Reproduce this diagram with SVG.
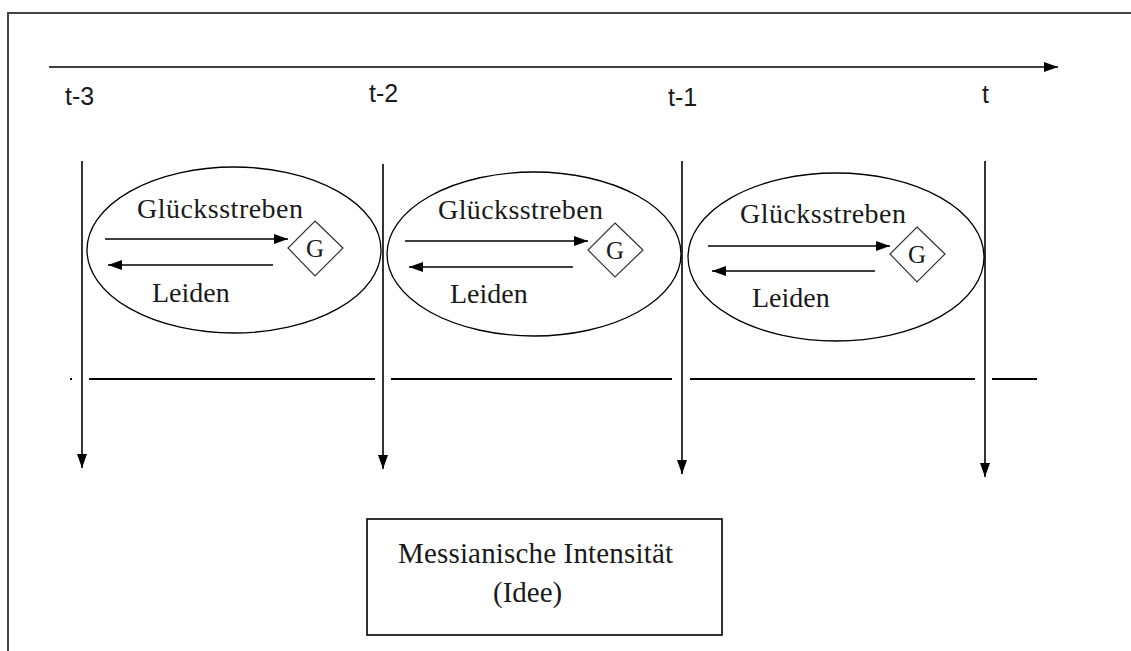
<svg xmlns="http://www.w3.org/2000/svg" width="1131" height="651" viewBox="0 0 1131 651">
<style>
.ln{stroke:#000;stroke-width:1.6;fill:none}
.el{stroke:#000;stroke-width:1.3;fill:none}
.sr{font-family:"Liberation Serif","Times New Roman",serif;fill:#1a1a1a}
.ss{font-family:"Liberation Sans",Arial,sans-serif;fill:#1a1a1a;font-size:25px}
.lab{font-size:28px}
.g{font-size:25px}
</style>
<defs>
<marker id="ah" viewBox="0 0 14 10" refX="14" refY="5" markerWidth="14" markerHeight="11" markerUnits="userSpaceOnUse" orient="auto">
<path d="M0,0 L14,5 L0,10 z" fill="#000"/>
</marker>
<marker id="ah2" viewBox="0 0 14 10" refX="14" refY="5" markerWidth="14" markerHeight="12" markerUnits="userSpaceOnUse" orient="auto">
<path d="M0,0 L14,5 L0,10 z" fill="#000"/>
</marker>
</defs>
<rect width="1131" height="651" fill="#fff"/>
<path d="M8,651 V13 H1131" fill="none" stroke="#444" stroke-width="2"/>

<g id="connectors">
<line class="ln" x1="49" y1="67" x2="1058" y2="67" marker-end="url(#ah2)"/>
<line class="ln" x1="82" y1="161" x2="82" y2="468" marker-end="url(#ah)"/>
<line class="ln" x1="383" y1="164" x2="383" y2="469" marker-end="url(#ah)"/>
<line class="ln" x1="682" y1="161" x2="682" y2="474" marker-end="url(#ah)"/>
<line class="ln" x1="985" y1="161" x2="985" y2="477" marker-end="url(#ah)"/>
<g stroke="#000" stroke-width="2">
<line x1="70" y1="379" x2="72" y2="379"/>
<line x1="89" y1="379" x2="375" y2="379"/>
<line x1="391" y1="379" x2="672" y2="379"/>
<line x1="690" y1="379" x2="975" y2="379"/>
<line x1="992" y1="379" x2="1037" y2="379"/>
</g>
</g>

<g id="labels">
<text class="ss" x="65" y="105">t-3</text>
<text class="ss" x="369" y="102">t-2</text>
<text class="ss" x="668" y="106">t-1</text>
<text class="ss" x="982" y="103">t</text>
</g>

<g id="cell1">
<ellipse class="el" cx="234" cy="250" rx="147" ry="83"/>
<text class="sr lab" x="137" y="218" textLength="166">Glücksstreben</text>
<line class="ln" x1="105" y1="239" x2="288" y2="239" marker-end="url(#ah)"/>
<line class="ln" x1="273" y1="265" x2="108" y2="265" marker-end="url(#ah)"/>
<text class="sr lab" x="152" y="302">Leiden</text>
<g id="g1">
<polygon points="315,221 343,248 315,276 288,248" fill="#fff" stroke="#333" stroke-width="1.2"/>
<text class="sr g" x="315" y="257" text-anchor="middle">G</text>
</g>
</g>

<g id="cell2">
<ellipse class="el" cx="534" cy="254" rx="147" ry="82"/>
<text class="sr lab" x="438" y="219" textLength="165">Glücksstreben</text>
<line class="ln" x1="405" y1="241" x2="588" y2="241" marker-end="url(#ah)"/>
<line class="ln" x1="573" y1="267" x2="409" y2="267" marker-end="url(#ah)"/>
<text class="sr lab" x="450" y="303">Leiden</text>
<g id="g2">
<polygon points="615,223 643,250 615,277 588,250" fill="#fff" stroke="#333" stroke-width="1.2"/>
<text class="sr g" x="615" y="259" text-anchor="middle">G</text>
</g>
</g>

<g id="cell3">
<ellipse class="el" cx="836" cy="257" rx="148" ry="84"/>
<text class="sr lab" x="740" y="223" textLength="166">Glücksstreben</text>
<line class="ln" x1="708" y1="246" x2="890" y2="246" marker-end="url(#ah)"/>
<line class="ln" x1="875" y1="271" x2="712" y2="271" marker-end="url(#ah)"/>
<text class="sr lab" x="752" y="307">Leiden</text>
<g id="g3">
<polygon points="917,227 945,254 917,282 890,254" fill="#fff" stroke="#333" stroke-width="1.2"/>
<text class="sr g" x="917" y="263" text-anchor="middle">G</text>
</g>
</g>

<g id="idee">
<rect x="367" y="519" width="355" height="116" fill="#fff" stroke="#000" stroke-width="1.6"/>
<text class="sr" font-size="29" x="398" y="563" textLength="275">Messianische Intensität</text>
<text class="sr" font-size="29" x="493" y="602">(Idee)</text>
</g>
</svg>
